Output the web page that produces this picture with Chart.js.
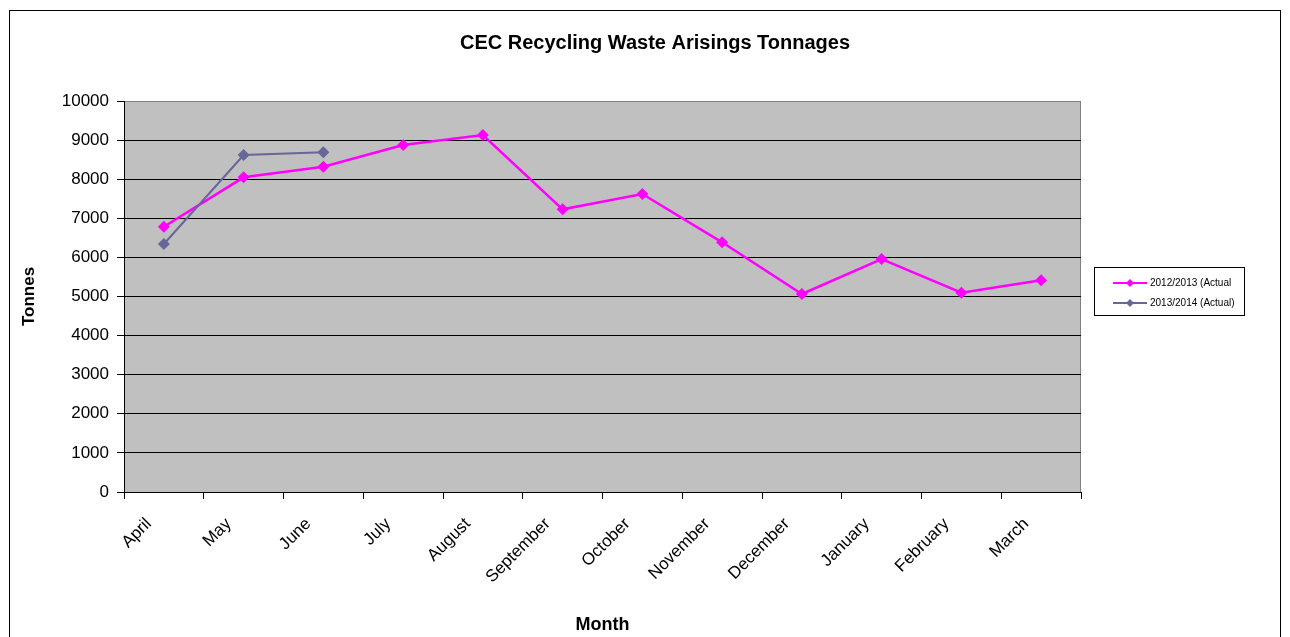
<!DOCTYPE html>
<html>
<head>
<meta charset="utf-8">
<script src="https://cdn.jsdelivr.net/npm/chart.js@4/dist/chart.umd.min.js"></script>
<style>
  html, body { margin: 0; padding: 0; background: #fff; }
  canvas { display: block; }
</style>
</head>
<body>
<canvas id="c" width="1290" height="637"></canvas>
<script>
const chartTitle = 'CEC Recycling Waste Arisings Tonnages';
const xAxisTitle = 'Month';
const yAxisTitle = 'Tonnes';
const months = ['April', 'May', 'June', 'July', 'August', 'September', 'October', 'November', 'December', 'January', 'February', 'March'];
const series2012Label = '2012/2013 (Actual';
const series2012 = [6785, 8048, 8320, 8875, 9130, 7230, 7621, 6386, 5064, 5959, 5098, 5414];
const series2013Label = '2013/2014 (Actual)';
const series2013 = [6343, 8619, 8688, null, null, null, null, null, null, null, null, null];
const yMin = 0, yMax = 10000, yStep = 1000;

const FONT = "'Liberation Sans', Arial, sans-serif";
const PINK = '#FF00FF';
const PURPLE = '#666699';

const decor = {
  id: 'decor',
  beforeDraw(chart) {
    const ctx = chart.ctx;
    const a = chart.chartArea;
    ctx.save();
    ctx.fillStyle = '#fff';
    ctx.fillRect(0, 0, chart.width, chart.height);
    ctx.strokeStyle = '#000';
    ctx.lineWidth = 1;
    ctx.strokeRect(9.5, 10.5, 1271, 640);
    ctx.fillStyle = '#C0C0C0';
    ctx.fillRect(a.left, a.top, a.right - a.left, a.bottom - a.top);
    ctx.strokeStyle = '#808080';
    ctx.beginPath();
    ctx.moveTo(Math.round(a.right) - 0.5, a.top);
    ctx.lineTo(Math.round(a.right) - 0.5, a.bottom);
    ctx.stroke();
    // title
    ctx.fillStyle = '#000';
    ctx.font = 'bold 20px ' + FONT;
    ctx.textAlign = 'center';
    ctx.textBaseline = 'middle';
    ctx.fillText(chartTitle, 655, 43);
    ctx.restore();
  },
  afterDraw(chart) {
    const ctx = chart.ctx;
    ctx.save();
    const lx = 1094.5, ly = 267.5, lw = 150, lh = 48;
    ctx.fillStyle = '#fff';
    ctx.fillRect(lx, ly, lw, lh);
    ctx.strokeStyle = '#000';
    ctx.lineWidth = 1;
    ctx.strokeRect(lx, ly, lw, lh);
    const items = chart.data.datasets.map(d => ({ label: d.label, color: d.borderColor }));
    items.forEach((it, i) => {
      const y = 283 + i * 20;
      ctx.strokeStyle = it.color;
      ctx.lineWidth = 2;
      ctx.beginPath();
      ctx.moveTo(1113, y);
      ctx.lineTo(1147, y);
      ctx.stroke();
      ctx.fillStyle = it.color;
      ctx.beginPath();
      const r = 4;
      ctx.moveTo(1130, y - r); ctx.lineTo(1130 + r, y); ctx.lineTo(1130, y + r); ctx.lineTo(1130 - r, y);
      ctx.closePath();
      ctx.fill();
      ctx.fillStyle = '#000';
      ctx.font = '10px ' + FONT;
      ctx.textAlign = 'left';
      ctx.textBaseline = 'middle';
      ctx.fillText(it.label, 1150, y);
    });
    ctx.restore();
  }
};

new Chart(document.getElementById('c'), {
  type: 'line',
  data: {
    labels: months,
    datasets: [
      {
        label: series2012Label,
        data: series2012,
        borderColor: PINK,
        backgroundColor: PINK,
        borderWidth: 2.5,
        pointStyle: 'rectRot',
        pointRadius: 6,
        pointBorderWidth: 0,
        pointBackgroundColor: PINK,
        tension: 0,
        spanGaps: false,
        order: 2
      },
      {
        label: series2013Label,
        data: series2013,
        borderColor: PURPLE,
        backgroundColor: PURPLE,
        borderWidth: 2,
        pointStyle: 'rectRot',
        pointRadius: 6,
        pointBorderWidth: 0,
        pointBackgroundColor: PURPLE,
        tension: 0,
        spanGaps: false,
        order: 1
      }
    ]
  },
  options: {
    responsive: false,
    animation: false,
    devicePixelRatio: 1,
    layout: { padding: { left: 10, top: 101, right: 209, bottom: 0 } },
    plugins: {
      legend: { display: false },
      title: { display: false },
      tooltip: { enabled: false }
    },
    scales: {
      x: {
        type: 'category',
        offset: true,
        afterFit(scale) { scale.height = 145; },
        grid: {
          offset: true,
          drawOnChartArea: false,
          drawTicks: true,
          tickLength: 7,
          tickColor: '#000',
          color: '#000'
        },
        border: { color: '#000', width: 1 },
        ticks: {
          autoSkip: false,
          minRotation: 45,
          maxRotation: 45,
          padding: 15,
          labelOffset: -15,
          color: '#000',
          font: { family: FONT, size: 17 }
        },
        title: {
          display: true,
          text: xAxisTitle,
          color: '#000',
          font: { family: FONT, size: 18, weight: 'bold' },
          padding: { top: 0, bottom: 1 }
        }
      },
      y: {
        min: yMin,
        max: yMax,
        afterFit(scale) { scale.width = 114; },
        grid: {
          drawOnChartArea: true,
          drawTicks: true,
          tickLength: 7,
          color: (c) => (c.tick && c.tick.value === yMax) ? '#808080' : '#000',
          tickColor: '#000'
        },
        border: { color: '#000', width: 1 },
        ticks: {
          stepSize: yStep,
          padding: 8,
          color: '#000',
          font: { family: FONT, size: 17 },
          callback: (v) => String(v)
        },
        title: {
          display: true,
          text: yAxisTitle,
          color: '#000',
          font: { family: FONT, size: 17, weight: 'bold' },
          padding: { top: 9, bottom: 0 }
        }
      }
    }
  },
  plugins: [decor]
});
</script>
</body>
</html>
